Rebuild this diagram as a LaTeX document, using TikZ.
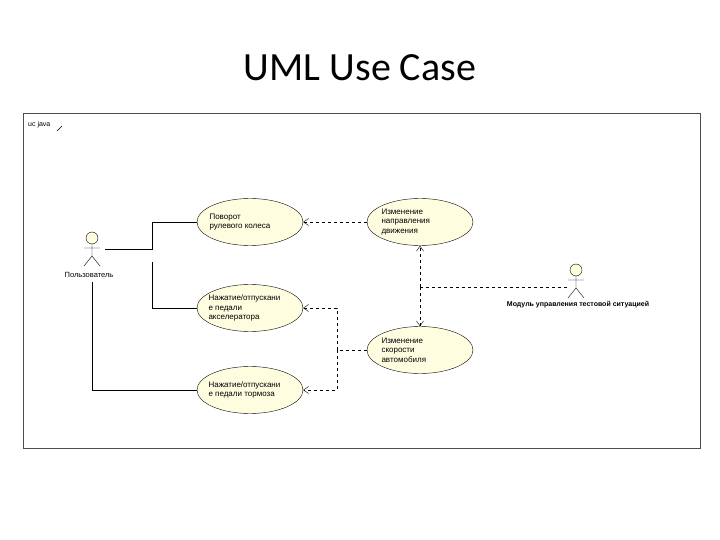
\documentclass[tikz,border=0pt]{standalone}
\usepackage{fontspec}
\setmainfont{Liberation Sans}
\newfontfamily\titlefont{Carlito}
\usetikzlibrary{arrows.meta,shapes.geometric}
\begin{document}
\begin{tikzpicture}[x=1pt,y=-1pt,
  uc/.style={ellipse,draw=black,fill=yellow!12,minimum width=106pt,minimum height=47pt,inner sep=0pt},
  lbl/.style={font=\fontsize{8}{9.5}\selectfont,align=left},
  dep/.style={dashed,-{Straight Barb[length=5pt,width=7pt]}},
  assoc/.style={draw=black,line width=0.6pt}]
\useasboundingbox (0,0) rectangle (720,540);
\node[font=\titlefont\fontsize{40}{44}\selectfont] (title) at (360,68) {UML Use Case};
\draw[black!70] (23,113) rectangle (700,448);
\node[font=\fontsize{7}{8}\selectfont,anchor=west,inner sep=0pt] (uc) at (28,125) {uc java};
\draw (57,131) -- (62,126);
% use cases
\node[uc] (e1) at (250,222) {};
\node[lbl,anchor=west] at (206,222) {Поворот\\рулевого колеса};
\node[uc] (e2) at (250,308) {};
\node[lbl,anchor=west] at (205,308) {Нажатие/отпускани\\е педали\\акселератора};
\node[uc] (e3) at (250,390) {};
\node[lbl,anchor=west] at (205,390) {Нажатие/отпускани\\е педали тормоза};
\node[uc] (e4) at (420,222) {};
\node[lbl,anchor=west] at (378,222) {Изменение\\направления\\движения};
\node[uc] (e5) at (420,350) {};
\node[lbl,anchor=west] at (378,350) {Изменение\\скорости\\автомобиля};
% actors
\foreach \n/\x/\y in {a1/92/238, a2/576/270}{
  \draw[fill=yellow!12] (\x,\y) circle (6pt);
  \draw (\x,\y+6) -- (\x,\y+18) (\x-8,\y+10) -- (\x+8,\y+10)
        (\x-8,\y+28) -- (\x,\y+18) -- (\x+8,\y+28);
  \coordinate (\n) at (\x,\y+12);
}
\node[font=\fontsize{7.5}{9}\selectfont] (l1) at (89,275) {Пользователь};
\node[font=\bfseries\fontsize{7}{9}\selectfont] (l2) at (578,305) {Модуль управления тестовой ситуацией};
% associations
\coordinate (j1) at (152,249);
\draw[assoc] (105,249) -- (j1) |- (e1.west);
\draw[assoc] (152,262) |- (e2.west);
\draw[assoc] (92,282) |- (e3.west);
% dependencies
\draw[dep] (e4.west) -- (e1.east);
\coordinate (j5) at (337,350);
\draw[dashed] (e5.west) -- (j5);
\draw[dep] (j5) |- (e2.east);
\draw[dep] (j5) |- (e3.east);
\coordinate (j4) at (420,287);
\draw[dashed] (567,287) -- (j4);
\draw[dep] (j4) -- (e4.south);
\draw[dep] (j4) -- (e5.north);
\end{tikzpicture}
\end{document}
